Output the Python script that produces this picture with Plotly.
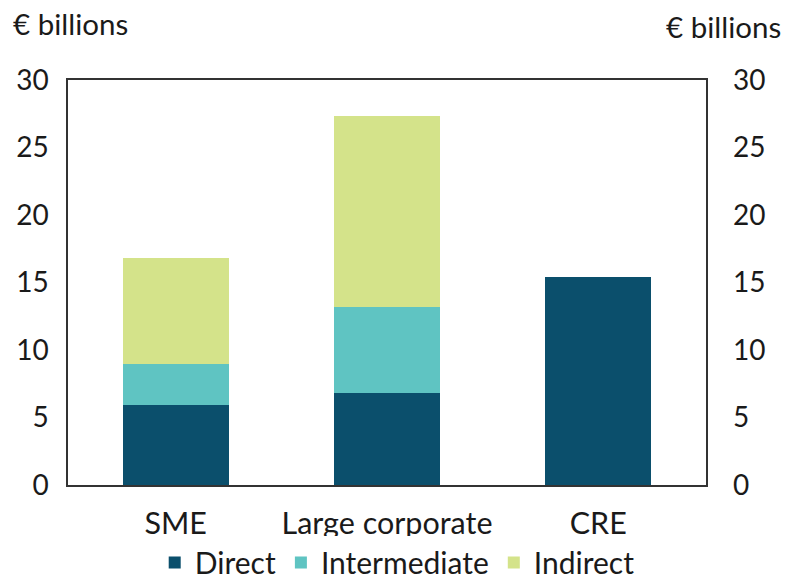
"""Stacked bar chart of exposures by sector, in EUR billions."""

import plotly.graph_objects as go

CATEGORIES = ["SME", "Large corporate", "CRE"]
DIRECT = [5.9, 6.8, 15.4]
INTERMEDIATE = [3.05, 6.4, 0.0]
INDIRECT = [7.85, 14.1, 0.0]
Y_TICKS = [0, 5, 10, 15, 20, 25, 30]

COLOURS = {"Direct": "#0b4f6c", "Intermediate": "#5fc4c2", "Indirect": "#d4e38a"}
FONT = "Lato, 'Open Sans', sans-serif"
TEXT = "#1a1a1a"

fig = go.Figure()
for name, values in [("Direct", DIRECT), ("Intermediate", INTERMEDIATE), ("Indirect", INDIRECT)]:
    fig.add_trace(
        go.Bar(
            x=CATEGORIES,
            y=values,
            name=name,
            marker={"color": COLOURS[name], "line": {"width": 0}},
            width=0.5,
        )
    )

# invisible trace so the right-hand axis is drawn
fig.add_trace(
    go.Scatter(
        x=CATEGORIES, y=[None] * len(CATEGORIES), yaxis="y2",
        showlegend=False, hoverinfo="skip", mode="markers",
    )
)

tick_font = {"family": FONT, "size": 28, "color": TEXT}
fig.update_layout(
    width=786,
    height=581,
    barmode="stack",
    plot_bgcolor="white",
    paper_bgcolor="white",
    margin={"l": 68, "r": 80, "t": 80, "b": 96},
    font={"family": FONT, "size": 28, "color": TEXT},
    xaxis={
        "range": [-0.51, 2.51],
        "showline": True,
        "linecolor": "#333333",
        "linewidth": 1.5,
        "mirror": True,
        "ticks": "",
        "tickfont": {"family": FONT, "size": 30.5, "color": TEXT},
        "ticklabelstandoff": 11,
        "automargin": False,
    },
    yaxis={
        "range": [0, 30],
        "tickvals": Y_TICKS,
        "showgrid": False,
        "zeroline": False,
        "showline": True,
        "linecolor": "#333333",
        "linewidth": 1.5,
        "mirror": True,
        "ticks": "",
        "tickfont": tick_font,
        "ticklabelstandoff": 12,
        "automargin": False,
    },
    yaxis2={
        "range": [0, 30],
        "tickvals": Y_TICKS,
        "overlaying": "y",
        "side": "right",
        "showgrid": False,
        "zeroline": False,
        "ticks": "",
        "tickfont": tick_font,
        "ticklabelstandoff": 26,
        "automargin": False,
    },
    legend={
        "orientation": "h",
        "xref": "paper",
        "x": 0.516,
        "xanchor": "center",
        "yref": "container",
        "y": 0.032,
        "yanchor": "middle",
        "font": {"family": FONT, "size": 30, "color": TEXT},
        "itemwidth": 30,
        "traceorder": "normal",
    },
    annotations=[
        {"text": "€ billions", "xref": "paper", "yref": "paper", "x": -0.09, "y": 1.14,
         "xanchor": "left", "yanchor": "middle", "showarrow": False,
         "font": {"family": FONT, "size": 29.5, "color": TEXT}},
        {"text": "€ billions", "xref": "paper", "yref": "paper", "x": 1.12, "y": 1.133,
         "xanchor": "right", "yanchor": "middle", "showarrow": False,
         "font": {"family": FONT, "size": 29.5, "color": TEXT}},
    ],
)

# drop the browser's default body margin so the figure sits at the page corner
fig.write_html(
    "out.html",
    config={"displayModeBar": False},
    post_script="document.body.style.margin = '0';",
)
